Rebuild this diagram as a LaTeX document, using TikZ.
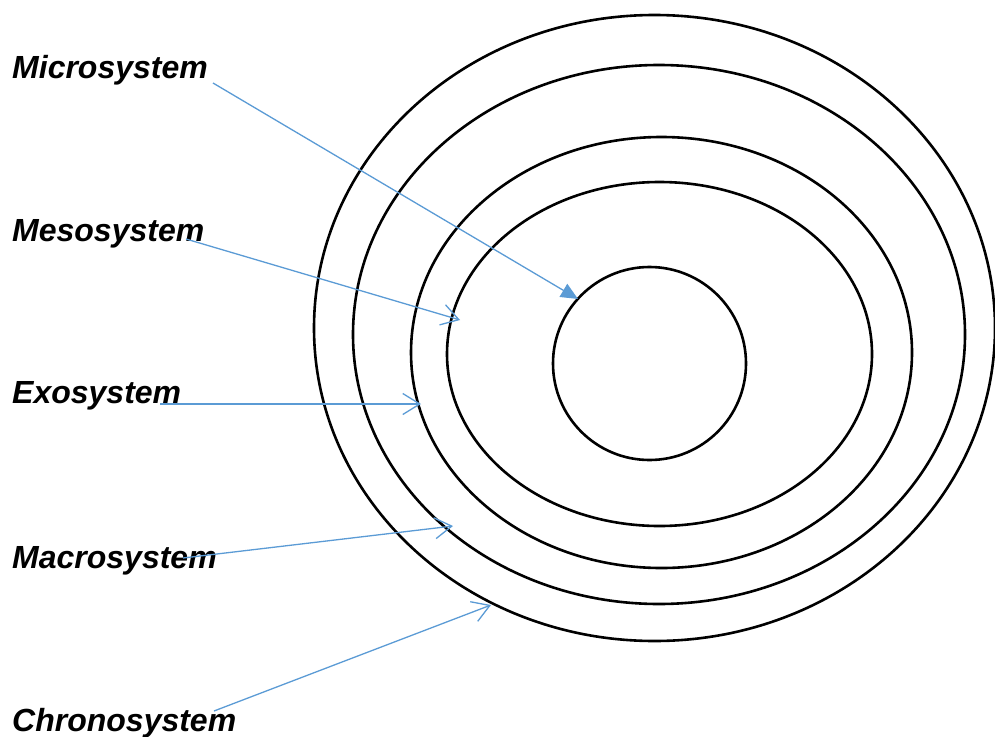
\documentclass[tikz,border=0pt]{standalone}
\usepackage{fontspec}
\setmainfont{Liberation Sans}
\usetikzlibrary{arrows.meta}
\definecolor{lineblue}{HTML}{5B9BD5}
\tikzset{
  label/.style={anchor=base west, inner sep=0pt, font=\fontsize{32}{38}\selectfont\bfseries\itshape},
  ring/.style={draw=black, line width=2.6pt},
  pointer/.style={draw=lineblue, line width=1.3pt, -{Straight Barb[length=17pt,width=21pt,line width=1.3pt]}},
  solidpointer/.style={draw=lineblue, line width=1.3pt, -{Triangle[length=17pt,width=15pt]}, fill=lineblue}
}
\begin{document}
\begin{tikzpicture}[x=1pt,y=-1pt]
\useasboundingbox (0,0) rectangle (995,736);
% rings
\coordinate (c1) at (654.5,328);
\coordinate (c2) at (659,334.5);
\coordinate (c3) at (661.5,352.5);
\coordinate (c4) at (659.5,354);
\coordinate (c5) at (649.5,363.5);
\draw[ring] (c1) ellipse [x radius=340.5pt, y radius=313pt];
\draw[ring] (c2) ellipse [x radius=306pt, y radius=269.5pt];
\draw[ring] (c3) ellipse [x radius=250.5pt, y radius=215.5pt];
\draw[ring] (c4) ellipse [x radius=212.5pt, y radius=172pt];
\draw[ring] (c5) circle [radius=96.5pt];
% labels
\node[label] (micro) at (12,78) {Microsystem};
\node[label] (meso) at (12,241) {Mesosystem};
\node[label] (exo) at (12,403) {Exosystem};
\node[label] (macro) at (12,568) {Macrosystem};
\node[label] (chrono) at (12,731) {Chronosystem};
% connector ends
\coordinate (microS) at (213,83);
\coordinate (microE) at (578,299);
\coordinate (mesoS) at (186,239);
\coordinate (mesoE) at (460,320);
\coordinate (exoS) at (160,404);
\coordinate (exoE) at (421,404);
\coordinate (macroS) at (183,558);
\coordinate (macroE) at (453,526);
\coordinate (chronoS) at (214,711);
\coordinate (chronoE) at (491,605);
\draw[solidpointer] (microS) -- (microE);
\draw[pointer] (mesoS) -- (mesoE);
\draw[pointer] (exoS) -- (exoE);
\draw[pointer] (macroS) -- (macroE);
\draw[pointer] (chronoS) -- (chronoE);
\end{tikzpicture}
\end{document}
